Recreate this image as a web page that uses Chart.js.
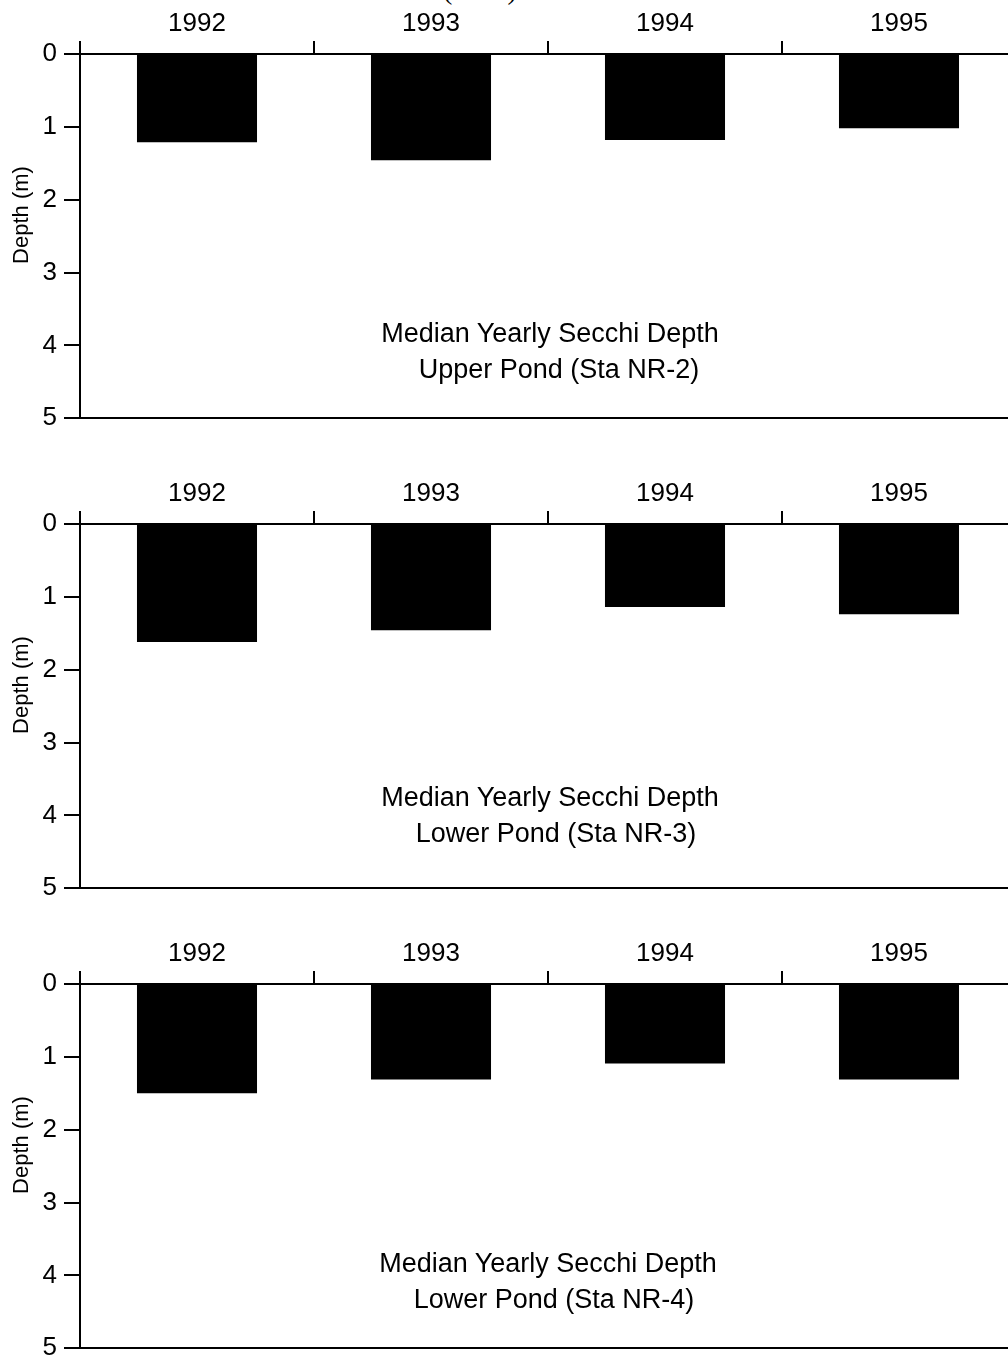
<!DOCTYPE html>
<html>
<head>
<meta charset="utf-8">
<script src="https://cdn.jsdelivr.net/npm/chart.js@4.4.1/dist/chart.umd.min.js"></script>
<style>
  html, body { margin: 0; padding: 0; background: #fff; }
  body { width: 1008px; height: 1360px; position: relative; overflow: hidden; font-family: "Liberation Sans", Arial, sans-serif; }
  canvas.panel { position: absolute; left: 0; }
  .note { position: absolute; font-family: "Liberation Sans", Arial, sans-serif; font-size: 27px; color: #000; white-space: pre; transform: translate(-50%, -50%); line-height: 30px; }
  .ytitle { position: absolute; font-family: "Liberation Sans", Arial, sans-serif; font-size: 22px; line-height: 22px; color: #000; white-space: pre; transform: translate(-50%, -50%) rotate(-90deg); }
  .top { position: absolute; font-family: "Liberation Serif", "Times New Roman", serif; font-size: 28px; color: #000; transform: translateX(-50%); line-height: 30px; }
</style>
</head>
<body>
<div class="top" style="left:480px; top:-25px;">(cont.)</div>
<canvas id="c0" class="panel" width="1016" height="433" style="top:0px"></canvas>
<canvas id="c1" class="panel" width="1016" height="433" style="top:470px"></canvas>
<canvas id="c2" class="panel" width="1016" height="433" style="top:930px"></canvas>
<div class="ytitle" style="left:21px; top:215px;">Depth (m)</div>
<div class="ytitle" style="left:21px; top:685px;">Depth (m)</div>
<div class="ytitle" style="left:21px; top:1145px;">Depth (m)</div>
<div class="note" style="left:550px; top:333px;">Median Yearly Secchi Depth</div>
<div class="note" style="left:559px; top:369px;">Upper Pond (Sta NR-2)</div>
<div class="note" style="left:550px; top:797px;">Median Yearly Secchi Depth</div>
<div class="note" style="left:556px; top:833px;">Lower Pond (Sta NR-3)</div>
<div class="note" style="left:548px; top:1263px;">Median Yearly Secchi Depth</div>
<div class="note" style="left:554px; top:1299px;">Lower Pond (Sta NR-4)</div>
<script>
// ---- data ----
const years = ['1992', '1993', '1994', '1995'];
const upperPondNR2 = [1.21, 1.46, 1.18, 1.02];
const lowerPondNR3 = [1.62, 1.46, 1.14, 1.24];
const lowerPondNR4 = [1.50, 1.31, 1.09, 1.31];
const depthMin = 0;
const depthMax = 5;
const depthStep = 1;

const FONT = '"Liberation Sans", Arial, sans-serif';

function makeChart(id, values) {
  return new Chart(document.getElementById(id), {
    type: 'bar',
    data: {
      labels: years,
      datasets: [{
        data: values,
        backgroundColor: '#000',
        borderWidth: 0,
        barPercentage: 0.513,
        categoryPercentage: 1.0
      }]
    },
    options: {
      responsive: false,
      animation: false,
      layout: { padding: 0 },
      plugins: { legend: { display: false }, tooltip: { enabled: false } },
      scales: {
        x: {
          type: 'category',
          position: 'top',
          offset: true,
          grid: { display: true, offset: true, drawOnChartArea: false, drawTicks: true, tickLength: 13, color: '#000', lineWidth: 2 },
          border: { display: true, color: '#000', width: 2 },
          ticks: { color: '#000', font: { family: FONT, size: 26 }, padding: 2, maxRotation: 0 },
          afterFit: s => { s.height = 54; }
        },
        x2: {
          type: 'category',
          position: 'bottom',
          offset: true,
          grid: { display: false },
          border: { display: true, color: '#000', width: 2 },
          ticks: { display: false },
          afterFit: s => { s.height = 12; }
        },
        y: {
          type: 'linear',
          position: 'left',
          reverse: true,
          min: depthMin,
          max: depthMax,
          ticks: { stepSize: depthStep, color: '#000', font: { family: FONT, size: 26, lineHeight: 0.6 }, padding: 7 },
          grid: { display: true, drawOnChartArea: false, drawTicks: true, tickLength: 16, color: '#000', lineWidth: 2 },
          border: { display: true, color: '#000', width: 2 },
          afterFit: s => { s.width = 80; }
        }
      }
    }
  });
}

makeChart('c0', upperPondNR2);
makeChart('c1', lowerPondNR3);
makeChart('c2', lowerPondNR4);
</script>
</body>
</html>
